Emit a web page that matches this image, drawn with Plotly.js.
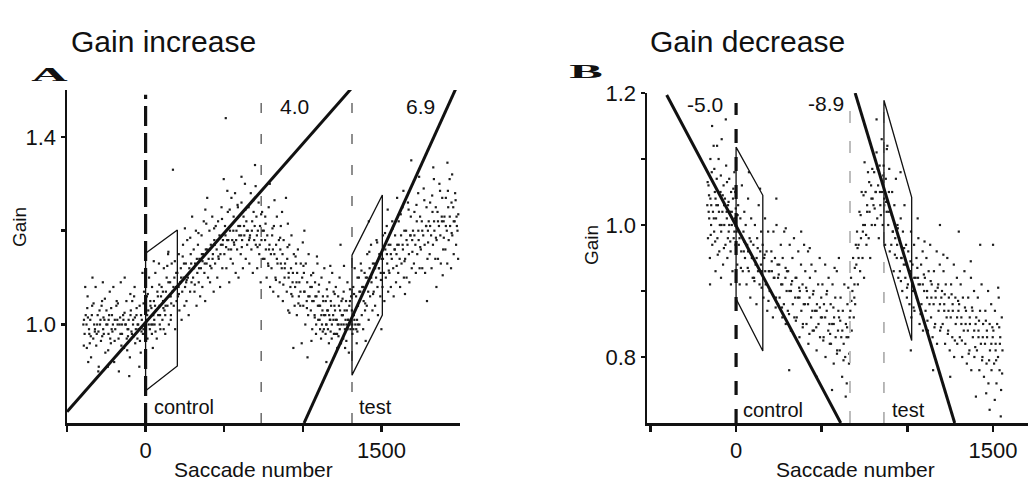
<!DOCTYPE html>
<html>
<head>
<meta charset="utf-8">
<script src="https://cdn.plot.ly/plotly-3.0.1.min.js"></script>
<style>html,body{margin:0;padding:0;background:#fff}#chart{width:1028px;height:483px}</style>
</head>
<body>
<div id="chart"></div>
<script>
// ---------------- DATA (saccade number, gain) ----------------
// Panel A: gain increase
const incBaseline = [[-396,1.00],[-388,0.98],[-381,1.02],[-374,0.95],[-369,1.06],[-360,0.99],[-352,1.01],[-347,0.93],[-340,1.04],[-333,0.97],
[-327,1.00],[-318,1.08],[-311,0.98],[-305,1.02],[-298,0.91],[-290,1.00],[-284,0.965],[-277,1.05],[-270,0.99],[-262,1.01],
[-256,0.94],[-249,1.03],[-243,1.00],[-236,0.98],[-228,1.07],[-221,0.96],[-214,1.02],[-208,1.00],[-200,0.92],[-193,0.99],
[-186,1.04],[-180,1.01],[-172,0.97],[-165,1.00],[-158,1.09],[-150,0.98],[-143,1.02],[-137,0.95],[-129,1.00],[-122,1.05],
[-115,0.99],[-108,1.01],[-100,0.93],[-94,1.03],[-87,0.98],[-80,1.00],[-73,1.06],[-66,0.96],[-58,1.02],[-51,1.00],
[-45,0.99],[-38,1.04],[-31,0.94],[-24,1.01],[-17,0.98],[-10,1.07],[-4,1.00],
[-392,1.01],[-376,1.00],[-358,0.98],[-342,1.02],[-322,0.99],[-308,1.00],[-287,1.01],[-266,0.98],[-250,1.00],[-232,1.02],[-216,0.99],[-196,1.01],
[-178,1.00],[-160,0.98],[-141,1.01],[-126,1.00],[-110,0.99],[-96,1.02],[-79,1.01],[-62,0.99],[-47,1.00],[-29,1.02],[-14,0.99],
[-384,1.08],[-365,0.92],[-338,1.10],[-301,0.90],[-272,1.09],[-240,0.91],[-205,1.08],[-170,0.90],[-133,1.10],[-104,0.89],[-70,1.08],[-40,0.91],
[-20,1.11],[-355,0.96],[-280,1.04],[-225,0.97],[-184,1.05],[-120,0.97],[-85,1.05],[-52,0.97],[-300,0.985],[-235,1.01],[-150,1.00],[-90,0.985],
[-393,0.955],[-371,1.035],[-349,0.975],[-331,1.045],[-314,0.955],[-293,1.03],[-276,0.975],[-259,1.055],[-238,0.945],[-219,1.035],[-197,0.965],
[-176,1.045],[-154,0.955],[-134,1.025],[-117,0.945],[-97,1.065],[-76,0.975],[-57,1.035],[-36,0.965],[-13,1.045],[-367,1.015],[-323,0.985],
[-268,1.015],[-211,0.985],[-162,1.015],[-112,0.975],[-68,1.015],[-26,0.985]];
const incAdapt = [[3,1.01],[8,1.06],[12,0.97],[17,1.03],[22,1.10],[27,0.99],[31,1.04],[36,1.00],[41,1.08],[46,0.95],[49,1.02],
[53,1.05],[57,1.00],[62,1.11],[66,1.03],[71,0.97],[75,1.07],[80,1.02],[85,1.13],[89,1.04],[94,0.99],[98,1.06],
[102,1.08],[107,1.01],[111,1.05],[116,1.12],[120,1.03],[125,0.98],[129,1.07],[134,1.10],[139,1.04],[143,1.15],[148,1.00],
[152,1.06],[156,1.09],[161,1.02],[166,1.13],[170,1.07],[174,1.33],[179,1.04],[183,1.10],[188,0.99],[193,1.08],[197,1.05],
[202,1.11],[206,1.06],[211,1.15],[215,1.03],[220,1.09],[224,1.12],[229,1.01],[233,1.07],[238,1.17],[242,1.10],[247,1.04],
[251,1.08],[256,1.13],[260,1.05],[265,1.18],[269,1.10],[274,1.02],[278,1.12],[283,1.07],[287,1.15],[292,1.09],[296,1.23],
[302,1.10],[306,1.16],[311,1.07],[315,1.13],[320,1.20],[324,1.04],[329,1.11],[333,1.17],[338,1.09],[342,1.14],[347,1.06],
[352,1.12],[356,1.19],[361,1.08],[365,1.15],[370,1.22],[374,1.11],[379,1.05],[383,1.16],[388,1.13],[392,1.27],[397,1.10],
[401,1.14],[406,1.20],[410,1.09],[415,1.17],[419,1.12],[424,1.23],[428,1.15],[433,1.07],[437,1.18],[442,1.13],[446,1.21],
[452,1.16],[456,1.10],[461,1.22],[465,1.14],[470,1.19],[474,1.08],[479,1.17],[483,1.25],[488,1.12],[492,1.18],[497,1.31],
[501,1.15],[505,1.21],[510,1.44],[514,1.12],[519,1.18],[523,1.24],[528,1.16],[532,1.09],[537,1.20],[541,1.14],[546,1.27],
[551,1.18],[555,1.13],[560,1.23],[564,1.17],[569,1.28],[573,1.11],[578,1.20],[582,1.16],[587,1.25],[591,1.10],[596,1.19],
[601,1.21],[605,1.15],[610,1.26],[614,1.18],[619,1.12],[623,1.23],[628,1.19],[632,1.30],[637,1.14],[641,1.22],[646,1.17],
[651,1.20],[655,1.25],[660,1.13],[664,1.19],[669,1.28],[673,1.16],[678,1.22],[682,1.11],[687,1.24],[691,1.18],[696,1.34],
[701,1.17],[705,1.23],[710,1.12],[714,1.20],[719,1.26],[723,1.15],[728,1.21],[732,1.09],[737,1.18],[741,1.24],[746,1.14],
[10,1.02],[30,1.05],[45,1.00],[60,1.04],[78,1.06],[92,1.02],[110,1.07],[127,1.04],[145,1.09],[160,1.06],[177,1.08],[195,1.11],
[210,1.08],[226,1.10],[244,1.13],[258,1.09],[276,1.11],[290,1.13],[308,1.12],[326,1.14],[340,1.12],[358,1.15],[376,1.13],[390,1.16],
[408,1.16],[426,1.14],[440,1.17],[458,1.18],[476,1.15],[490,1.17],[508,1.19],[526,1.18],[544,1.16],[558,1.20],[576,1.18],[590,1.21],
[608,1.19],[626,1.21],[644,1.20],[658,1.18],[676,1.20],[694,1.21],[708,1.19],[726,1.17],[744,1.20],
[20,1.00],[55,1.01],[90,1.00],[125,1.02],[160,1.01],[40,0.98],[115,0.99],
[14,1.065],[37,1.035],[63,0.985],[87,1.085],[113,1.035],[138,1.125],[163,1.045],[186,1.135],[212,1.065],[236,1.145],[261,1.095],
[284,1.185],[313,1.085],[336,1.195],[362,1.135],[386,1.215],[411,1.125],[436,1.205],[463,1.145],[486,1.225],[512,1.165],[535,1.245],
[562,1.175],[585,1.255],[612,1.165],[635,1.245],[662,1.185],[685,1.265],[712,1.165],[735,1.235],[52,1.135],[145,1.155],[250,1.205],
[380,1.245],[520,1.285],[610,1.315],[700,1.295]];
const incRecovery = [[752,1.20],[756,1.14],[761,1.23],[765,1.16],[770,1.10],[774,1.19],[779,1.13],[783,1.25],[788,1.17],[792,1.08],[797,1.15],
[801,1.12],[805,1.19],[812,1.07],[816,1.21],[819,1.15],[826,1.10],[830,1.17],[835,1.23],[839,1.13],[844,1.06],[848,1.18],
[853,1.09],[857,1.16],[860,1.21],[866,1.12],[871,1.15],[873,1.05],[878,1.18],[884,1.10],[887,1.13],[893,1.27],[898,1.07],
[901,1.14],[907,1.03],[910,1.10],[914,1.17],[921,1.08],[925,1.12],[928,1.19],[934,1.06],[937,1.11],[943,1.15],[948,1.04],
[951,1.08],[957,1.13],[962,1.02],[964,1.11],[969,1.16],[975,1.06],[978,1.09],[984,1.04],[987,1.13],[993,0.96],[996,1.10],
[1003,1.04],[1007,1.11],[1010,1.07],[1016,1.00],[1019,1.13],[1025,1.05],[1028,1.09],[1034,1.02],[1037,1.15],[1043,1.06],[1048,1.08],
[1051,1.03],[1057,1.08],[1060,0.99],[1066,1.11],[1069,1.05],[1075,1.02],[1078,1.09],[1084,0.98],[1087,1.06],[1093,1.13],[1096,1.04],
[1101,1.07],[1107,1.01],[1110,1.04],[1116,0.97],[1119,1.10],[1125,1.03],[1128,1.06],[1134,0.99],[1137,1.12],[1143,1.02],[1146,1.05],
[1151,1.00],[1157,1.06],[1160,1.03],[1166,0.96],[1169,1.09],[1175,1.01],[1178,1.05],[1184,0.97],[1187,1.11],[1193,1.02],[1196,1.07],
[1201,1.04],[1207,0.98],[1210,1.08],[1216,1.01],[1219,0.95],[1225,1.06],[1228,1.00],[1234,1.10],[1237,1.03],[1243,0.96],[1246,1.05],
[1251,1.02],[1257,0.97],[1260,1.07],[1266,1.03],[1269,0.95],[1275,1.05],[1278,1.00],[1284,1.09],[1287,1.01],[1293,0.94],[1296,1.04],[1303,0.99],[1307,1.06],
[1085,1.00],[1098,1.01],[1110,0.99],[1122,1.00],[1135,1.02],[1148,1.00],[1160,0.99],[1172,1.01],[1185,1.00],[1198,0.98],[1210,1.01],[1222,1.00],
[1235,0.99],[1248,1.02],[1260,1.00],[1272,1.01],[1285,0.99],[1298,1.00],[1118,1.02],[1145,0.98],[1168,1.02],[1195,1.01],[1218,0.98],[1245,1.00],
[1268,0.99],[1290,1.01],
[760,1.18],[785,1.16],[810,1.16],[835,1.14],[860,1.13],[885,1.12],[910,1.11],[935,1.09],[960,1.09],[985,1.07],[1010,1.07],[1035,1.06],
[1060,1.05],[1080,1.06],[1105,1.04],[1130,1.05],[1155,1.03],[1180,1.04],[1205,1.03],[1230,1.04],[1255,1.02],[1280,1.03],[1300,1.05],
[790,1.30],[868,1.24],[940,0.95],[1030,0.93],[1150,0.92],[1240,1.17],[1010,1.20],
[763,1.215],[781,1.125],[807,1.205],[829,1.095],[856,1.185],[876,1.085],[903,1.165],[927,1.065],[954,1.145],[972,1.045],[1004,1.125],
[1026,1.035],[1053,1.105],[1076,1.015],[1103,1.085],[1127,0.985],[1153,1.075],[1177,0.985],[1203,1.065],[1227,0.975],[1253,1.055],
[1277,0.965],[1300,1.075],[820,1.265],[905,1.215],[1000,1.175],[1090,1.145],[1175,1.125],[1262,1.125],[915,1.025],[1055,0.965]];
const incTest = [[1312,1.03],[1316,0.98],[1321,1.08],[1325,1.02],[1330,1.12],[1334,1.00],[1339,1.06],[1343,0.96],[1348,1.10],[1315,1.00],[1328,1.01],[1340,0.99],[1350,1.00],[1322,0.99],[1345,1.01],
[1351,1.04],[1357,1.10],[1360,1.00],[1366,1.07],[1369,1.13],[1375,1.02],[1378,1.08],[1384,0.99],[1387,1.05],[1393,1.11],[1396,1.03],
[1401,1.10],[1407,1.04],[1410,1.15],[1416,1.07],[1419,1.01],[1425,1.12],[1428,1.06],[1434,1.17],[1437,1.09],[1443,1.03],[1446,1.13],
[1451,1.07],[1457,1.13],[1460,1.04],[1466,1.10],[1469,1.18],[1475,1.08],[1478,1.02],[1484,1.12],[1487,1.15],[1493,1.06],[1496,1.11],
[1501,1.14],[1507,1.08],[1510,1.19],[1516,1.11],[1519,1.05],[1525,1.16],[1528,1.10],[1534,1.21],[1537,1.13],[1543,1.07],[1546,1.17],
[1551,1.11],[1557,1.17],[1560,1.08],[1566,1.14],[1569,1.22],[1575,1.12],[1578,1.06],[1584,1.16],[1587,1.19],[1593,1.09],[1596,1.15],
[1601,1.17],[1607,1.11],[1610,1.22],[1616,1.14],[1619,1.08],[1625,1.19],[1628,1.13],[1634,1.25],[1637,1.16],[1643,1.10],[1646,1.20],
[1651,1.14],[1657,1.20],[1660,1.10],[1666,1.17],[1669,1.26],[1675,1.15],[1678,1.09],[1684,1.19],[1687,1.23],[1693,1.12],[1696,1.18],
[1701,1.20],[1707,1.13],[1710,1.24],[1716,1.17],[1719,1.11],[1725,1.22],[1728,1.15],[1734,1.28],[1737,1.18],[1743,1.12],[1746,1.23],
[1751,1.16],[1757,1.22],[1760,1.12],[1766,1.19],[1769,1.29],[1775,1.17],[1778,1.11],[1784,1.21],[1787,1.25],[1793,1.14],[1796,1.20],
[1801,1.22],[1807,1.15],[1810,1.26],[1816,1.19],[1819,1.12],[1825,1.24],[1828,1.17],[1834,1.31],[1837,1.20],[1843,1.14],[1846,1.25],
[1851,1.18],[1857,1.24],[1860,1.14],[1866,1.21],[1869,1.30],[1875,1.19],[1878,1.13],[1884,1.23],[1887,1.27],[1893,1.16],[1896,1.22],
[1901,1.23],[1907,1.16],[1910,1.27],[1916,1.20],[1919,1.13],[1925,1.25],[1928,1.18],[1934,1.31],[1937,1.21],[1943,1.12],[1946,1.26],
[1951,1.19],[1957,1.25],[1960,1.15],[1966,1.22],[1969,1.28],[1975,1.17],[1978,1.23],[1984,1.20],[1988,1.14],
[1360,1.07],[1385,1.08],[1410,1.10],[1435,1.10],[1460,1.12],[1485,1.12],[1510,1.14],[1535,1.15],[1560,1.15],[1585,1.16],[1610,1.17],[1635,1.17],
[1660,1.18],[1685,1.19],[1710,1.19],[1735,1.20],[1760,1.20],[1785,1.21],[1810,1.21],[1835,1.22],[1860,1.22],[1885,1.22],[1910,1.21],[1935,1.23],
[1960,1.22],[1980,1.21],
[1420,1.22],[1500,0.99],[1690,1.35],[1790,1.05],[1950,1.32],[1600,1.27],[1850,1.08],
[1326,1.065],[1347,0.985],[1373,1.115],[1397,1.045],[1423,1.155],[1447,1.065],[1473,1.175],[1497,1.095],[1523,1.195],[1547,1.115],
[1573,1.205],[1597,1.125],[1623,1.235],[1647,1.135],[1673,1.245],[1697,1.155],[1723,1.255],[1747,1.165],[1773,1.265],[1797,1.175],
[1823,1.275],[1847,1.185],[1873,1.285],[1897,1.185],[1923,1.285],[1947,1.195],[1972,1.265],[1989,1.235],[1540,1.245],[1640,1.285],
[1740,1.315],[1830,1.335],[1920,1.345],[1400,0.965],[1650,1.065],[1890,1.105]];

// Panel B: gain decrease
const decBaseline = [[-168,1.03],[-164,0.98],[-161,1.06],[-157,1.01],[-153,0.95],[-150,1.04],[-146,1.00],[-142,1.08],[-139,0.97],[-135,1.02],
[-131,1.12],[-128,0.99],[-124,1.05],[-120,0.93],[-117,1.01],[-113,1.07],[-109,0.98],[-106,1.03],[-102,1.10],[-98,0.96],
[-95,1.00],[-91,1.05],[-87,0.99],[-84,1.13],[-80,1.02],[-76,0.94],[-73,1.06],[-69,1.00],[-65,1.04],[-62,0.97],
[-58,1.09],[-54,1.01],[-51,0.95],[-47,1.03],[-43,0.99],[-40,1.07],[-36,1.02],[-32,0.96],[-29,1.05],[-25,1.00],
[-21,0.93],[-18,1.04],[-14,0.98],[-10,1.08],[-7,1.01],[-3,0.97],
[-160,1.02],[-145,1.03],[-130,1.01],[-115,1.03],[-100,1.02],[-85,1.00],[-70,1.03],[-55,1.02],[-40,1.00],[-25,1.02],[-10,0.99],
[-152,0.91],[-140,1.15],[-111,1.12],[-88,0.92],[-60,1.16],[-30,0.91],[-150,1.10],[-5,1.05],[-120,1.04],[-48,0.98],
[-166,1.065],[-148,0.985],[-127,1.085],[-107,0.955],[-89,1.075],[-71,0.965],[-53,1.065],[-34,0.975],[-16,1.055],[-158,1.045],
[-122,0.975],[-78,1.045],[-44,1.035],[-2,1.025]];
const decAdapt = [[3,0.99],[7,0.94],[12,1.03],[16,0.97],[21,0.91],[25,1.01],[30,0.96],[34,1.06],[39,0.93],[43,0.99],[48,1.02],
[52,0.95],[56,1.00],[61,0.91],[65,0.97],[70,1.04],[74,0.93],[79,0.98],[83,0.89],[88,1.01],[92,0.95],[97,0.92],
[101,0.97],[105,0.92],[110,1.00],[114,0.94],[119,0.88],[123,0.98],[128,0.93],[132,1.03],[137,0.91],[141,0.96],[146,0.99],
[151,0.93],[155,0.97],[160,0.89],[164,0.95],[169,1.01],[173,0.91],[178,0.96],[182,0.87],[187,0.99],[191,0.93],[196,0.90],
[202,0.90],[206,0.96],[209,0.93],[215,0.86],[218,0.99],[224,0.92],[227,0.95],[233,0.89],[236,1.00],[242,0.94],[245,0.88],
[252,0.94],[254,0.89],[261,0.97],[263,0.91],[270,0.86],[272,0.95],[279,0.88],[281,0.99],[288,0.92],[290,0.85],[297,0.93],
[302,0.87],[304,0.93],[311,0.90],[313,0.97],[320,0.84],[322,0.91],[329,0.95],[331,0.88],[338,0.98],[340,0.86],[347,0.92],
[352,0.92],[354,0.86],[361,0.89],[363,0.96],[370,0.83],[372,0.90],[379,0.94],[381,0.87],[388,0.91],[390,0.85],[397,0.97],
[402,0.88],[404,0.93],[411,0.85],[413,0.90],[420,0.96],[422,0.82],[429,0.89],[431,0.92],[438,0.86],[440,0.94],[447,0.84],
[452,0.90],[454,0.84],[461,0.87],[463,0.93],[470,0.81],[472,0.88],[479,0.91],[481,0.85],[488,0.95],[490,0.83],[497,0.89],
[502,0.86],[504,0.91],[511,0.83],[513,0.88],[520,0.94],[522,0.80],[529,0.87],[531,0.90],[538,0.84],[540,0.92],[547,0.82],
[552,0.88],[554,0.82],[561,0.85],[563,0.91],[570,0.79],[572,0.86],[579,0.89],[581,0.83],[588,0.93],[590,0.81],[597,0.87],
[601,0.86],[605,0.81],[610,0.89],[614,0.83],[619,0.77],[623,0.87],[628,0.82],[632,0.91],[637,0.80],[641,0.85],[646,0.76],[650,0.88],[655,0.83],[659,0.79],[663,0.86],
[20,0.98],[45,0.96],[70,0.96],[95,0.95],[120,0.95],[145,0.94],[170,0.93],[195,0.93],[220,0.92],[245,0.92],[270,0.91],[295,0.90],
[320,0.90],[345,0.89],[370,0.89],[395,0.88],[420,0.88],[445,0.87],[470,0.87],[495,0.86],[520,0.86],[545,0.85],[570,0.85],[595,0.84],
[620,0.84],[645,0.83],
[75,1.08],[235,1.04],[310,0.78],[470,0.77],[560,0.75],[640,0.74],[380,0.99],[600,0.95],
[9,1.015],[28,0.935],[47,0.975],[68,0.935],[86,0.975],[107,0.915],[126,0.965],[149,0.905],[167,0.955],[189,0.885],[208,0.945],
[231,0.875],[249,0.925],[268,0.875],[289,0.935],[309,0.865],[327,0.915],[349,0.855],[368,0.905],[389,0.845],[409,0.905],[428,0.835],
[449,0.895],[468,0.845],[489,0.875],[509,0.825],[528,0.895],[549,0.835],[568,0.875],[589,0.805],[608,0.855],[627,0.795],[648,0.845],
[661,0.805],[140,1.055],[290,0.995],[430,0.965],[575,0.935],[655,0.905]];
const decTest = [[667,0.87],[671,0.92],[675,0.84],[679,0.90],[683,0.95],[687,0.86],[691,0.91],[695,0.88],[699,0.97],
[702,0.94],[706,0.99],[711,0.91],[715,0.97],[720,1.02],[724,0.93],[729,0.98],[733,1.05],[738,0.95],[742,1.00],[747,0.92],
[752,1.00],[756,1.05],[761,0.97],[765,1.03],[770,1.08],[774,0.98],[779,1.02],[783,0.95],[788,1.06],[792,1.00],[797,1.04],
[802,1.03],[806,1.08],[811,1.00],[815,1.05],[820,1.11],[824,1.01],[829,1.06],[833,0.98],[838,1.09],[842,1.03],[847,1.07],
[852,1.05],[856,1.00],[861,1.09],[865,1.03],[870,0.97],[874,1.07],[879,1.02],[883,1.12],[888,1.00],[892,1.05],[897,0.96],
[902,1.02],[906,0.97],[911,1.05],[915,0.99],[920,0.93],[924,1.03],[929,0.98],[933,1.07],[938,0.95],[942,1.00],[947,0.92],
[952,0.98],[956,0.93],[961,1.01],[965,0.95],[970,0.90],[974,0.99],[979,0.94],[983,1.03],[988,0.92],[992,0.97],[997,0.89],
[1003,0.91],[1005,0.96],[1012,0.88],[1014,0.93],[1021,0.99],[1023,0.86],[1030,0.94],[1032,0.90],[1039,0.97],[1041,0.87],[1048,0.92],
[1053,0.95],[1055,0.89],[1062,0.92],[1064,0.98],[1071,0.85],[1073,0.91],[1080,0.94],[1082,0.88],[1089,0.96],[1091,0.84],[1098,0.90],
[1102,0.92],[1106,0.87],[1111,0.95],[1115,0.89],[1120,0.84],[1124,0.93],[1129,0.88],[1133,0.97],[1138,0.86],[1142,0.91],[1147,0.83],
[1153,0.88],[1155,0.93],[1162,0.85],[1164,0.90],[1171,0.96],[1173,0.82],[1180,0.91],[1182,0.87],[1189,0.94],[1191,0.84],[1198,0.89],
[1202,0.90],[1206,0.85],[1211,0.93],[1215,0.87],[1220,0.82],[1224,0.91],[1229,0.86],[1233,0.95],[1238,0.84],[1242,0.89],[1247,0.81],
[1253,0.86],[1255,0.91],[1262,0.83],[1264,0.88],[1271,0.94],[1273,0.80],[1280,0.89],[1282,0.85],[1289,0.92],[1291,0.82],[1298,0.87],
[1302,0.88],[1306,0.83],[1311,0.91],[1315,0.85],[1320,0.80],[1324,0.89],[1329,0.84],[1333,0.93],[1338,0.82],[1342,0.87],[1347,0.79],
[1353,0.84],[1355,0.89],[1362,0.81],[1364,0.86],[1371,0.92],[1373,0.78],[1380,0.87],[1382,0.83],[1389,0.90],[1391,0.80],[1398,0.85],
[1402,0.86],[1406,0.81],[1411,0.89],[1415,0.83],[1420,0.78],[1424,0.87],[1429,0.82],[1433,0.91],[1438,0.80],[1442,0.85],[1447,0.77],
[1453,0.82],[1455,0.87],[1462,0.79],[1464,0.84],[1471,0.90],[1473,0.76],[1480,0.85],[1482,0.81],[1489,0.88],[1491,0.78],[1498,0.83],
[1502,0.84],[1506,0.79],[1511,0.87],[1515,0.81],[1520,0.76],[1524,0.85],[1529,0.80],[1533,0.89],[1538,0.78],[1542,0.83],[1547,0.75],[1551,0.86],[1555,0.81],
[690,0.89],[715,0.95],[740,0.99],[765,1.02],[790,1.04],[815,1.05],[840,1.05],[865,1.04],[890,1.02],[915,0.99],[940,0.97],[965,0.95],
[990,0.94],[1015,0.93],[1040,0.92],[1065,0.91],[1090,0.91],[1115,0.90],[1140,0.89],[1165,0.89],[1190,0.88],[1215,0.88],[1240,0.87],[1265,0.87],
[1290,0.86],[1315,0.86],[1340,0.85],[1365,0.85],[1390,0.84],[1415,0.84],[1440,0.83],[1465,0.83],[1490,0.82],[1515,0.82],[1540,0.82],
[1060,1.01],[1190,1.00],[1300,0.99],[1425,0.97],[1500,0.97],[1480,0.72],[1545,0.71],[1400,0.74],[1250,0.77],[960,1.08],[850,1.13],[820,1.16],[1020,0.81],[1150,0.78],
[673,0.885],[693,0.935],[709,0.965],[727,1.015],[744,1.045],[759,0.985],[777,1.065],[795,1.085],[809,1.025],[827,1.085],[845,1.015],
[859,1.075],[876,1.035],[894,1.085],[909,1.015],[927,0.955],[944,0.995],[962,0.915],[981,0.965],[998,0.905],[1018,0.945],[1036,0.875],
[1058,0.935],[1077,0.865],[1096,0.925],[1117,0.855],[1136,0.915],[1158,0.845],[1177,0.905],[1196,0.845],[1218,0.895],[1236,0.835],
[1258,0.895],[1277,0.825],[1296,0.885],[1318,0.825],[1336,0.875],[1358,0.805],[1377,0.875],[1396,0.815],[1418,0.855],[1436,0.795],
[1458,0.855],[1477,0.795],[1496,0.845],[1518,0.795],[1536,0.845],[1553,0.775],[1510,0.735],[1460,0.745],[1530,0.905],[1370,0.945],
[1210,0.955],[1100,0.975],[750,1.095],[880,1.115]];

// Fitted lines (endpoints as drawn: saccade, gain) and their slope labels
const incFitLabels = ['4.0', '6.9'];
const incFitControlX = [-500, 1311], incFitControlY = [0.814, 1.504];
const incFitTestX = [1008, 1979],   incFitTestY = [0.79, 1.507];
const decFitLabels = ['-5.0', '-8.9'];
const decFitControlX = [-405, 611], decFitControlY = [1.197, 0.70];
const decFitTestX = [695, 1276],    decFitTestY = [1.20, 0.70];

// Fit windows (parallelograms): x of left/right edges, gains of corners [topL, topR, botR, botL]
const incWinControlX = [0, 202],    incWinControlY = [1.152, 1.2015, 0.9115, 0.859];
const incWinTestX = [1313, 1506],   incWinTestY = [1.148, 1.276, 1.020, 0.892];
const decWinControlX = [0, 156],    decWinControlY = [1.118, 1.045, 0.809, 0.888];
const decWinTestX = [863, 1025],    decWinTestY = [1.189, 1.042, 0.825, 0.969];

// Session markers (saccade numbers)
const incMarkers = {start: 0, adaptEnd: 735, test: 1313};
const decMarkers = {start: 0, adaptEnd: 665, test: 863};

// Ticks
const incXTicks = [-500, 0, 500, 1000, 1500], incXTickText = ['', '0', '', '', '1500'];
const incYTicks = [1.0, 1.2, 1.4],            incYTickText = ['1.0', '', '1.4'];
const decXTicks = [-500, 0, 500, 1000, 1500], decXTickText = ['', '0', '', '', '1500'];
const decYTicks = [0.8, 0.9, 1.0, 1.1, 1.2],  decYTickText = ['0.8', '', '1.0', '', '1.2'];

// ---------------- BUILD ----------------
const W = 1028, H = 483;
const PX = v => v / W, PY = v => 1 - v / H;
const FONT = 'Liberation Sans, Arial, Helvetica, sans-serif';
const INK = '#111';

function dots(sets, xa, ya) {
  const all = [].concat(...sets);
  return {type: 'scatter', mode: 'markers', x: all.map(p => p[0]), y: all.map(p => p[1]),
    xaxis: xa, yaxis: ya, hoverinfo: 'skip',
    marker: {symbol: 'square', size: 2.2, color: '#1e1e1e', line: {width: 0}}};
}
function line(x, y, xa, ya, w, color, dash) {
  return {type: 'scatter', mode: 'lines', x: x, y: y, xaxis: xa, yaxis: ya, hoverinfo: 'skip',
    cliponaxis: false, line: {width: w, color: color || INK, dash: dash || 'solid'}};
}
function win(X, Y, xa, ya) {
  return line([X[0], X[1], X[1], X[0], X[0]], [Y[0], Y[1], Y[2], Y[3], Y[0]], xa, ya, 1.3);
}
function vline(xv, y0, y1, xa, ya, w, color, dash) {
  return line([xv, xv], [y0, y1], xa, ya, w, color, dash);
}

const traces = [
  dots([incBaseline, incAdapt, incRecovery, incTest], 'x', 'y'),
  dots([decBaseline, decAdapt, decTest], 'x2', 'y2'),
  vline(incMarkers.start, 0.79, 1.49, 'x', 'y', 3.2, INK, '20px,7px'),
  vline(incMarkers.adaptEnd, 0.79, 1.49, 'x', 'y', 1.1, '#333', '10px,21px'),
  vline(incMarkers.test, 0.79, 1.49, 'x', 'y', 1.1, '#333', '10px,21px'),
  vline(decMarkers.start, 0.70, 1.185, 'x2', 'y2', 3.2, INK, '14px,14px'),
  vline(decMarkers.adaptEnd, 0.70, 1.185, 'x2', 'y2', 2, '#bdbdbd', '12px,18px'),
  vline(decMarkers.test, 0.70, 1.185, 'x2', 'y2', 1.6, '#a8a8a8', '11px,19px'),
  win(incWinControlX, incWinControlY, 'x', 'y'),
  win(incWinTestX, incWinTestY, 'x', 'y'),
  win(decWinControlX, decWinControlY, 'x2', 'y2'),
  win(decWinTestX, decWinTestY, 'x2', 'y2'),
  line(incFitControlX, incFitControlY, 'x', 'y', 3),
  line(incFitTestX, incFitTestY, 'x', 'y', 3),
  line(decFitControlX, decFitControlY, 'x2', 'y2', 3),
  line(decFitTestX, decFitTestY, 'x2', 'y2', 3)
];

const axisCommon = {showline: true, linecolor: INK, linewidth: 2.5, ticks: 'outside', tickcolor: INK,
  tickwidth: 2.5, showgrid: false, zeroline: false, fixedrange: true,
  tickfont: {family: FONT, size: 22, color: INK}};

function ann(text, x, y, size, extra) {
  return Object.assign({text: text, x: PX(x), y: PY(y), xref: 'paper', yref: 'paper', showarrow: false,
    xanchor: 'center', yanchor: 'middle', font: {family: FONT, size: size, color: INK}}, extra || {});
}
const SERIF = {family: 'Liberation Serif, Times New Roman, serif', size: 24, color: INK};

const layout = {
  width: W, height: H, margin: {l: 0, r: 0, t: 0, b: 0}, showlegend: false,
  paper_bgcolor: '#fff', plot_bgcolor: 'rgba(0,0,0,0)',
  xaxis: Object.assign({}, axisCommon, {domain: [PX(67), PX(460)], range: [-500, 2000], anchor: 'y',
    tickmode: 'array', tickvals: incXTicks, ticktext: incXTickText, ticklen: 6}),
  yaxis: Object.assign({}, axisCommon, {domain: [PY(423), PY(90)], range: [0.79, 1.5], anchor: 'x',
    tickmode: 'array', tickvals: incYTicks, ticktext: incYTickText, ticklen: 4}),
  xaxis2: Object.assign({}, axisCommon, {domain: [PX(647), 1], range: [-520, 1704], anchor: 'y2',
    tickmode: 'array', tickvals: decXTicks, ticktext: decXTickText, ticklen: 6}),
  yaxis2: Object.assign({}, axisCommon, {domain: [PY(423), PY(93)], range: [0.7, 1.2], anchor: 'x2',
    tickmode: 'array', tickvals: decYTicks, ticktext: decYTickText, ticklen: 4}),
  annotations: [
    ann('Gain increase', 163, 42, 30),
    ann('Gain decrease', 747, 42, 30),
    ann('<b>A</b>', 50, 75, 24, {font: SERIF}),
    ann('<b>B</b>', 586, 72, 24, {font: SERIF}),
    ann('Gain', 20, 227, 19, {textangle: -90}),
    ann('Gain', 591, 245, 19, {textangle: -90}),
    ann('Saccade number', 253, 469, 21),
    ann('Saccade number', 855, 469, 21),
    ann(incFitLabels[0], 294, 107, 21),
    ann(incFitLabels[1], 420, 107, 21),
    ann(decFitLabels[0], 705, 104, 21),
    ann(decFitLabels[1], 826, 103, 21),
    ann('control', 184, 407, 20),
    ann('test', 375, 407, 20),
    ann('control', 773, 410, 20),
    ann('test', 908, 410, 20)
  ]
};

Plotly.newPlot('chart', traces, layout, {displayModeBar: false, staticPlot: true}).then(function () {
  document.querySelectorAll('text.annotation-text').forEach(function (el) {
    const t = el.textContent;
    if (t === 'A' || t === 'B') {
      el.style.transformBox = 'fill-box';
      el.style.transformOrigin = 'center';
      el.style.transform = 'scale(2.1,0.8)';
    }
  });
});
</script>
</body>
</html>
